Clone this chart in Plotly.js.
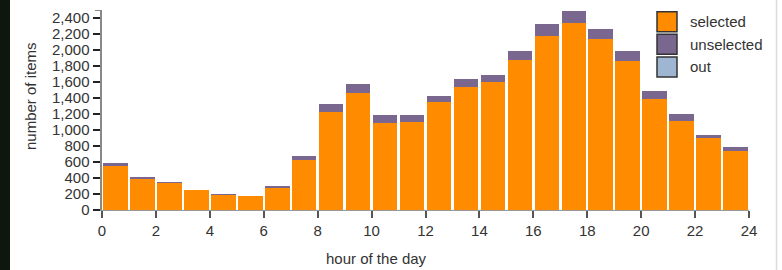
<!DOCTYPE html>
<html>
<head>
<meta charset="utf-8">
<script src="https://cdn.plot.ly/plotly-3.0.1.min.js"></script>
<style>html,body{margin:0;padding:0;background:#fff;}#chart{width:782px;height:270px;}</style>
</head>
<body>
<div id="chart"></div>
<script>
// Data
const hours = [0,1,2,3,4,5,6,7,8,9,10,11,12,13,14,15,16,17,18,19,20,21,22,23];
const selected   = [555,393,334,247,189,172,281,629,1220,1461,1087,1100,1344,1536,1606,1877,2175,2342,2135,1867,1387,1116,900,733];
const unselected = [33,16,12,9,8,9,24,41,104,116,100,87,83,100,84,116,150,149,124,126,95,79,41,50];
const outside    = [0,0,0,0,0,0,0,0,0,0,0,0,0,0,0,0,0,0,0,0,0,0,0,0];
const seriesNames = ['selected','unselected','out'];
const seriesColors = ['#ff8c00','#7a6790','#9fb6d2'];
const yTicks = [0,200,400,600,800,1000,1200,1400,1600,1800,2000,2200,2400];
const xTicks = [0,2,4,6,8,10,12,14,16,18,20,22,24];

const W = 782, H = 270;
const M = {l:102, r:33, t:10, b:60};
const pw = W - M.l - M.r, ph = H - M.t - M.b;
const px = x => (x - M.l) / pw;          // pixel -> paper x
const py = y => (H - M.b - y) / ph;      // pixel -> paper y

const font = 'Liberation Sans, Arial, sans-serif';
const seriesVals = [selected, unselected, outside];
const traces = seriesVals.map((v, i) => ({
  type: 'bar', x: hours, y: v, name: seriesNames[i],
  width: 0.91, offset: 0.045,
  marker: {color: seriesColors[i], line: {width: 0}},
  showlegend: false, hoverinfo: 'x+y+name'
}));

const shapes = [
  // dark strip on the left edge of the screenshot
  {type:'rect', xref:'paper', yref:'paper', x0:px(0), x1:px(10), y0:py(H), y1:py(0),
   fillcolor:'#0e170e', line:{width:0}, layer:'above'},
  // light border on the right
  {type:'line', xref:'paper', yref:'paper', x0:px(776.5), x1:px(776.5), y0:py(H), y1:py(0),
   line:{color:'#dcdcdc', width:1.5}},
  // outer tick at top of y axis
  {type:'line', xref:'paper', yref:'y', x0:px(95), x1:px(102), y0:2500, y1:2500,
   line:{color:'#888', width:2}}
];
const annotations = [
  {xref:'paper', yref:'paper', x:px(30), y:py(96), text:'number of items', textangle:-90,
   showarrow:false, xanchor:'center', yanchor:'middle', font:{family:font, size:15, color:'#333'}},
  {xref:'paper', yref:'paper', x:px(376), y:py(258), text:'hour of the day',
   showarrow:false, xanchor:'center', yanchor:'middle', font:{family:font, size:15, color:'#333'}}
];
// manual legend with larger swatches
seriesNames.forEach((n, i) => {
  const top = 11.7 + i * 22.6;
  shapes.push({type:'rect', xref:'paper', yref:'paper', x0:px(657), x1:px(677),
    y0:py(top + 20), y1:py(top), fillcolor:seriesColors[i], line:{color:'#333', width:1.5}});
  annotations.push({xref:'paper', yref:'paper', x:px(688), y:py(top + 10), text:n,
    showarrow:false, xanchor:'left', yanchor:'middle', font:{family:font, size:15, color:'#333'}});
});

const layout = {
  width: W, height: H,
  margin: M,
  barmode: 'stack',
  paper_bgcolor: '#fff', plot_bgcolor: '#fff',
  font: {family: font, size: 15, color: '#333'},
  xaxis: {
    range: [0, 24], tickvals: xTicks, ticktext: xTicks.map(String),
    ticks: 'outside', ticklen: 7, tickwidth: 2, tickcolor: '#555',
    showline: true, linecolor: '#999', linewidth: 1,
    showgrid: false, zeroline: false, fixedrange: true,
    tickfont: {family: font, size: 15, color: '#333'}
  },
  yaxis: {
    range: [0, 2500], tickvals: yTicks, ticktext: yTicks.map(v => v.toLocaleString('en-US')),
    ticks: 'outside', ticklen: 7, tickwidth: 2, tickcolor: '#222',
    showline: true, linecolor: '#888', linewidth: 2.5,
    showgrid: false, zeroline: false, fixedrange: true,
    tickfont: {family: font, size: 15, color: '#333'}
  },
  shapes: shapes,
  annotations: annotations,
  showlegend: false
};
Plotly.newPlot('chart', traces, layout, {displayModeBar: false, staticPlot: true});
</script>
</body>
</html>
